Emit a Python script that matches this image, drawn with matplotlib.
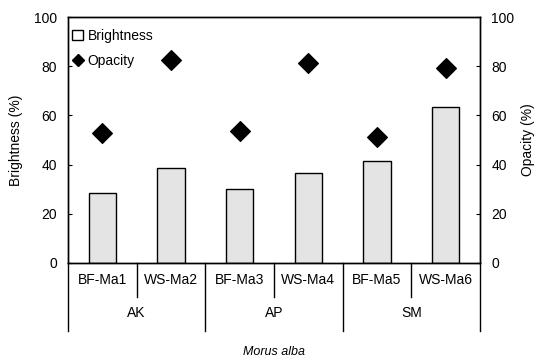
import matplotlib
matplotlib.use("Agg")
import matplotlib.pyplot as plt
from matplotlib.lines import Line2D
from matplotlib.patches import Patch

plt.rcParams['font.family'] = ['Liberation Sans', 'DejaVu Sans']

samples = ["BF-Ma1", "WS-Ma2", "BF-Ma3", "WS-Ma4", "BF-Ma5", "WS-Ma6"]
groups = ["AK", "AP", "SM"]
brightness = [28.5, 38.5, 30.0, 36.6, 41.5, 63.4]
opacity = [52.8, 82.5, 53.7, 81.3, 51.2, 79.3]

fig = plt.figure(figsize=(5.37, 3.62), dpi=100)
ax = fig.add_axes([0.1266, 0.2735, 0.7674, 0.6795])
x = list(range(len(samples)))
ax.bar(x, brightness, width=0.4, color="#e4e4e4", edgecolor="black", linewidth=1.0, zorder=2)
ax.set_xlim(-0.5, len(samples) - 0.5)
ax.set_ylim(0, 100)
ax.set_yticks([0, 20, 40, 60, 80, 100])
ax.tick_params(axis='y', direction='in', length=3, labelsize=10, pad=8)
ax.set_xticks([])
ax.set_ylabel("Brightness (%)", fontsize=10, labelpad=8)

ax2 = ax.twinx()
ax2.scatter(x, opacity, marker="D", s=100, color="black", zorder=3)
ax2.set_ylim(0, 100)
ax2.set_yticks([0, 20, 40, 60, 80, 100])
ax2.tick_params(axis='y', direction='in', length=3, labelsize=10, pad=8)
ax2.set_ylabel("Opacity (%)", fontsize=10, labelpad=5)
ax2.set_xticks([])

for a in (ax, ax2):
    for s in a.spines.values():
        s.set_linewidth(1.0)

# multi-level category axis
trans = ax.get_xaxis_transform()
sub_depth = -0.14
grp_depth = -0.275
for i, s in enumerate(samples):
    ax.text(i, -0.07, s, transform=trans, ha='center', va='center', fontsize=10)
for i in range(len(samples) + 1):
    xb = i - 0.5
    depth = grp_depth if i % 2 == 0 else sub_depth
    ax.plot([xb, xb], [0, depth], transform=trans, color='black', lw=1.0, clip_on=False)
for g, name in enumerate(groups):
    ax.text(2 * g + 0.5, -0.205, name, transform=trans, ha='center', va='center', fontsize=10)

ax.text(0.5, -0.36, "Morus alba", transform=ax.transAxes, ha='center', va='center',
        fontsize=9, style='italic')

handles = [Patch(facecolor='white', edgecolor='black', label='Brightness'),
           Line2D([], [], marker='D', color='black', linestyle='None', markersize=6, label='Opacity')]
ax.legend(handles=handles, loc='upper left', bbox_to_anchor=(0.0, 0.97), frameon=False, fontsize=10,
          handlelength=0.8, handletextpad=0.3, borderaxespad=0.1, labelspacing=0.8,
          borderpad=0.2)

fig.savefig("out.png", dpi=100)
